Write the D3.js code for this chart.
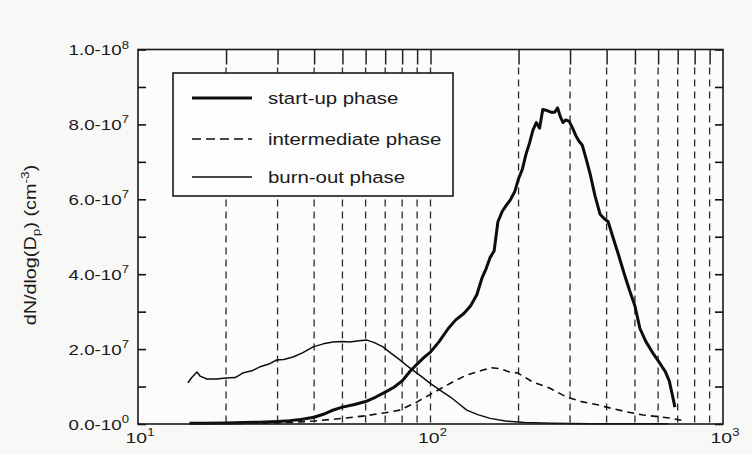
<!DOCTYPE html>
<html>
<head>
<meta charset="utf-8">
<script src="https://cdn.jsdelivr.net/npm/d3@7"></script>
<style>
  html, body { margin: 0; padding: 0; background: #f8f8f7; }
  svg { display: block; }
  text { font-family: "Liberation Sans", Arial, Helvetica, sans-serif; fill: #1a1a1a; }
</style>
</head>
<body>
<svg id="chart" width="752" height="454"></svg>
<script>
// Particle size distributions (diameter in nm, number concentration in cm^-3)
const startupD = [15, 17, 20, 23, 26, 30, 33, 36, 40, 43, 46, 50, 55, 60, 65, 70, 75, 80, 85, 90, 95, 100, 107, 115, 122, 130, 137, 144, 150, 155, 160, 165, 170, 176, 182, 188, 194, 200, 206, 212, 218, 224, 230, 236, 242, 248, 254, 260, 266, 272, 278, 284, 290, 298, 306, 314, 322, 330, 340, 352, 365, 380, 393, 405, 420, 440, 460, 480, 500, 520, 545, 575, 605, 635, 655, 670, 685];
const startupN = [0.02, 0.02, 0.03, 0.04, 0.05, 0.07, 0.09, 0.12, 0.18, 0.26, 0.36, 0.45, 0.52, 0.6, 0.72, 0.85, 0.98, 1.15, 1.4, 1.6, 1.78, 1.92, 2.2, 2.55, 2.78, 2.95, 3.15, 3.45, 3.9, 4.15, 4.45, 4.62, 5.4, 5.68, 5.85, 6.0, 6.2, 6.55, 6.8, 7.2, 7.5, 7.85, 8.05, 7.9, 8.4, 8.38, 8.35, 8.32, 8.33, 8.44, 8.2, 8.05, 8.12, 8.08, 7.9, 7.7, 7.55, 7.45, 7.1, 6.65, 6.1, 5.6, 5.48, 5.4, 5.0, 4.5, 4.0, 3.55, 3.15, 2.55, 2.2, 1.9, 1.65, 1.4, 1.15, 0.8, 0.45];

const interD = [20, 25, 30, 35, 40, 50, 60, 70, 78.6, 90, 102, 117, 133, 151, 162, 173, 186, 199, 224, 255, 292, 331, 380, 400, 470, 533, 610, 660, 720];
const interN = [0.01, 0.02, 0.03, 0.05, 0.08, 0.15, 0.22, 0.3, 0.37, 0.59, 0.83, 1.09, 1.31, 1.44, 1.5, 1.48, 1.39, 1.36, 1.12, 0.96, 0.72, 0.59, 0.5, 0.45, 0.32, 0.24, 0.19, 0.16, 0.1];

const burnD = [14.8, 15.3, 15.9, 16.3, 17.2, 18.5, 20, 21.5, 22.8, 24.5, 26, 28, 29.8, 31.5, 33.9, 36.5, 39.7, 43, 46.4, 50, 53, 57, 60.6, 64, 68.8, 73, 78.6, 83, 87, 93, 99.5, 108, 117, 125, 133, 145, 160, 180, 210, 260, 350, 500, 650];
const burnN = [1.1, 1.25, 1.39, 1.28, 1.2, 1.2, 1.23, 1.24, 1.36, 1.42, 1.52, 1.6, 1.71, 1.72, 1.79, 1.9, 2.06, 2.14, 2.19, 2.2, 2.19, 2.22, 2.24, 2.18, 2.06, 1.9, 1.71, 1.56, 1.44, 1.27, 1.09, 0.9, 0.72, 0.54, 0.37, 0.25, 0.15, 0.08, 0.04, 0.02, 0.01, 0.01, 0.01];

const seriesNames = ["start-up phase", "intermediate phase", "burn-out phase"];
const yTickValues = [0, 2e7, 4e7, 6e7, 8e7, 1e8];
const yTickMantissa = ["0.0", "2.0", "4.0", "6.0", "8.0", "1.0"];
const yTickExponent = ["0", "7", "7", "7", "7", "8"];
const xTickValues = [10, 100, 1000];
const xTickExponent = ["1", "2", "3"];
const gridValues = [20, 30, 40, 50, 60, 70, 80, 90, 100, 200, 300, 400, 500, 600, 700, 800, 900];

const toPoints = (ds, ns) => ds.map((d, i) => ({ d, n: ns[i] * 1e7 }));
const series = [
  { name: seriesNames[0], pts: toPoints(startupD, startupN), width: 3, dash: null },
  { name: seriesNames[1], pts: toPoints(interD, interN), width: 1.6, dash: "7,5" },
  { name: seriesNames[2], pts: toPoints(burnD, burnN), width: 1.5, dash: null }
];

const plotL = 138, plotR = 723, plotT = 49.5, plotB = 424;
const svg = d3.select("#chart");
const x = d3.scaleLog().domain([10, 1000]).range([plotL, plotR]);
const y = d3.scaleLinear().domain([0, 1e8]).range([plotB, plotT]);
const SX = 1.25; // horizontal stretch of the lettering

// plot background
svg.append("rect").attr("x", plotL).attr("y", plotT)
  .attr("width", plotR - plotL).attr("height", plotB - plotT)
  .attr("fill", "#fcfcfc");

// vertical dashed grid lines
svg.append("g").selectAll("line").data(gridValues).join("line")
  .attr("x1", d => x(d)).attr("x2", d => x(d))
  .attr("y1", plotT + 18).attr("y2", plotB)
  .attr("stroke", "#2a2a2a").attr("stroke-width", 1.3)
  .attr("stroke-dasharray", "7,5");

// top ticks (log minor + decade)
svg.append("g").attr("transform", `translate(0,${plotT})`)
  .call(d3.axisBottom(x).tickValues(gridValues).tickSize(15).tickFormat(""))
  .call(g => g.select(".domain").remove())
  .selectAll("line").attr("stroke", "#222").attr("stroke-width", 1.5);

// left ticks (major + minor, pointing inward)
const yAll = d3.range(0, 1e8 + 1, 1e7);
svg.append("g").attr("transform", `translate(${plotL},0)`)
  .call(d3.axisRight(y).tickValues(yAll).tickSize(8).tickFormat(""))
  .call(g => g.select(".domain").remove())
  .selectAll("line").attr("stroke", "#111").attr("stroke-width", 1.6);
// right ticks
svg.append("g").attr("transform", `translate(${plotR},0)`)
  .call(d3.axisLeft(y).tickValues(yAll).tickSize(8).tickFormat(""))
  .call(g => g.select(".domain").remove())
  .selectAll("line").attr("stroke", "#111").attr("stroke-width", 1.6);

// curves
const line = d3.line().x(p => x(p.d)).y(p => y(p.n));
svg.append("g").selectAll("path").data(series).join("path")
  .attr("d", s => line(s.pts))
  .attr("fill", "none").attr("stroke", "#0d0d0d")
  .attr("stroke-width", s => s.width)
  .attr("stroke-linejoin", "round")
  .attr("stroke-dasharray", s => s.dash);

// frame
svg.append("rect").attr("x", plotL).attr("y", plotT)
  .attr("width", plotR - plotL).attr("height", plotB - plotT)
  .attr("fill", "none").attr("stroke", "#1a1a1a").attr("stroke-width", 1.6);

// y tick labels
const yLab = svg.append("g").selectAll("text").data(yTickValues).join("text")
  .attr("transform", d => `translate(129,${y(d) + 5.5}) scale(${SX},1)`)
  .attr("text-anchor", "end").attr("font-size", 15);
yLab.append("tspan").text((d, i) => yTickMantissa[i] + "-10");
yLab.append("tspan").attr("font-size", 10.5).attr("dy", -6.5).text((d, i) => yTickExponent[i]);

// x tick labels
const xLab = svg.append("g").selectAll("text").data(xTickValues).join("text")
  .attr("transform", d => `translate(${x(d) + 2},443) scale(${SX},1)`)
  .attr("text-anchor", "middle").attr("font-size", 15.5);
xLab.append("tspan").text("10");
xLab.append("tspan").attr("font-size", 10.5).attr("dy", -7).text((d, i) => xTickExponent[i]);

// y axis title
const yt = svg.append("text")
  .attr("transform", `translate(36,245) rotate(-90) scale(1.2,1)`)
  .attr("text-anchor", "middle").attr("font-size", 16.5);
yt.append("tspan").text("dN/dlog(D");
yt.append("tspan").attr("font-size", 11.5).attr("dy", 4).text("p");
yt.append("tspan").attr("dy", -4).text(") (cm");
yt.append("tspan").attr("font-size", 11.5).attr("dy", -7).text("-3");
yt.append("tspan").attr("dy", 7).text(")");

// legend
const lg = svg.append("g");
lg.append("rect").attr("x", 173).attr("y", 73).attr("width", 280).attr("height", 123)
  .attr("fill", "#fdfdfd").attr("stroke", "#1a1a1a").attr("stroke-width", 1.6);
const rowY = [98, 139, 177];
series.forEach((s, i) => {
  lg.append("line").attr("x1", 192).attr("x2", 252).attr("y1", rowY[i]).attr("y2", rowY[i])
    .attr("stroke", "#0d0d0d").attr("stroke-width", s.width)
    .attr("stroke-dasharray", s.dash ? "9,5" : null);
  lg.append("text").attr("transform", `translate(268,${rowY[i] + 6}) scale(1.2,1)`)
    .attr("font-size", 17).text(s.name);
});
</script>
</body>
</html>
